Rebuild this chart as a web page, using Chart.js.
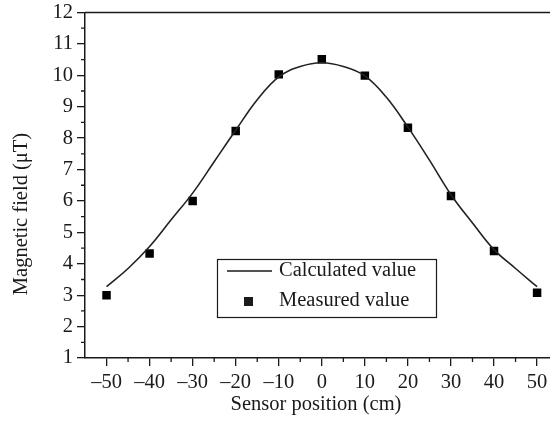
<!DOCTYPE html>
<html>
<head>
<meta charset="utf-8">
<script src="https://cdn.jsdelivr.net/npm/chart.js@4"></script>
<style>
  html, body { margin: 0; padding: 0; background: #fff; overflow: hidden; }
  #wrap { width: 550px; height: 425px; }
</style>
</head>
<body>
<div id="wrap"><canvas id="fieldChart" width="550" height="425"></canvas></div>
<script>
// sensor positions (cm) for the calculated curve
const calcPositions = [-50, -45, -40, -35, -30, -25, -20, -15, -10, -5, 0, 5, 10, 15, 20, 25, 30, 35, 40, 45, 50];
const calcValues = [3.27, 3.85, 4.55, 5.4, 6.25, 7.25, 8.25, 9.22, 9.95, 10.28, 10.4, 10.28, 9.98, 9.3, 8.35, 7.3, 6.2, 5.3, 4.45, 3.85, 3.27];

// measured points
const measPositions = [-50, -40, -30, -20, -10, 0, 10, 20, 30, 40, 50];
const measValues = [3.0, 4.33, 6.0, 8.23, 10.03, 10.51, 9.99, 8.33, 6.16, 4.41, 3.08];

const xTicks = [-50, -40, -30, -20, -10, 0, 10, 20, 30, 40, 50];
const yTicks = [1, 2, 3, 4, 5, 6, 7, 8, 9, 10, 11, 12];

const serif = "'Liberation Serif', 'DejaVu Serif', serif";
const ink = '#1a1a1a';
const fontSize = 20.5;

// minor ticks, top border, axis titles and the boxed legend
const decorPlugin = {
    id: 'decor',
    afterDraw(chart) {
        const ctx = chart.ctx;
        const area = chart.chartArea;
        const xs = chart.scales.x;
        const ys = chart.scales.y;
        ctx.save();
        ctx.strokeStyle = ink;
        ctx.lineWidth = 1.3;
        // top border
        ctx.beginPath();
        ctx.moveTo(area.left, area.top);
        ctx.lineTo(area.right, area.top);
        ctx.stroke();
        // minor ticks
        ctx.beginPath();
        for (let v = 1.5; v < 12; v += 1) {
            const py = ys.getPixelForValue(v);
            ctx.moveTo(area.left - 4, py);
            ctx.lineTo(area.left, py);
        }
        for (let v = -45; v <= 45; v += 10) {
            const px = xs.getPixelForValue(v);
            ctx.moveTo(px, area.bottom);
            ctx.lineTo(px, area.bottom + 4);
        }
        ctx.stroke();

        // axis titles
        ctx.fillStyle = ink;
        ctx.font = fontSize + 'px ' + serif;
        ctx.textAlign = 'center';
        ctx.textBaseline = 'middle';
        ctx.fillText('Sensor position (cm)', 316, 405);
        ctx.save();
        ctx.translate(22, 214);
        ctx.rotate(-Math.PI / 2);
        ctx.fillText('Magnetic field (\u03bcT)', 0, 0);
        ctx.restore();

        // legend
        ctx.lineWidth = 1.2;
        ctx.strokeRect(217.5, 259.5, 219, 58);
        ctx.lineWidth = 1.5;
        ctx.beginPath();
        ctx.moveTo(227, 271);
        ctx.lineTo(272, 271);
        ctx.stroke();
        ctx.fillRect(244, 297, 9, 9);
        ctx.textAlign = 'left';
        ctx.fillText('Calculated value', 279, 271);
        ctx.fillText('Measured value', 279, 301);
        ctx.restore();
    }
};

const ctx = document.getElementById('fieldChart').getContext('2d');
new Chart(ctx, {
    type: 'line',
    data: {
        datasets: [{
            label: 'Calculated value',
            data: calcPositions.map((x, i) => ({ x: x, y: calcValues[i] })),
            borderColor: '#222',
            borderWidth: 1.6,
            pointRadius: 0,
            tension: 0.4,
            fill: false
        }, {
            label: 'Measured value',
            data: measPositions.map((x, i) => ({ x: x, y: measValues[i] })),
            showLine: false,
            pointStyle: 'rect',
            pointRadius: 6,
            pointBackgroundColor: '#000',
            pointBorderColor: '#000',
            pointBorderWidth: 0
        }]
    },
    options: {
        responsive: false,
        animation: false,
        layout: { autoPadding: false, padding: { top: 12.5, right: 0, left: 0, bottom: 0 } },
        plugins: {
            legend: { display: false },
            tooltip: { enabled: false }
        },
        scales: {
            x: {
                type: 'linear',
                min: -55,
                max: 53,
                afterBuildTicks: s => { s.ticks = xTicks.map(v => ({ value: v })); },
                afterFit: s => { s.height = 67; s.paddingLeft = 0; s.paddingRight = 0; },
                grid: { display: true, drawOnChartArea: false, drawTicks: true, tickLength: 8, color: ink, lineWidth: 1.3 },
                border: { display: true, color: ink, width: 1.5 },
                ticks: {
                    padding: 4,
                    color: ink,
                    font: { family: serif, size: fontSize },
                    maxRotation: 0,
                    callback: v => (v < 0 ? '\u2013' + Math.abs(v) : String(v))
                }
            },
            y: {
                min: 1,
                max: 12,
                afterBuildTicks: s => { s.ticks = yTicks.map(v => ({ value: v })); },
                afterFit: s => { s.width = 85; s.paddingTop = 0; s.paddingBottom = 0; },
                grid: { display: true, drawOnChartArea: false, drawTicks: true, tickLength: 8, color: ink, lineWidth: 1.3 },
                border: { display: true, color: ink, width: 1.5 },
                ticks: {
                    padding: 4,
                    color: ink,
                    font: { family: serif, size: fontSize }
                }
            }
        }
    },
    plugins: [decorPlugin]
});
</script>
</body>
</html>
